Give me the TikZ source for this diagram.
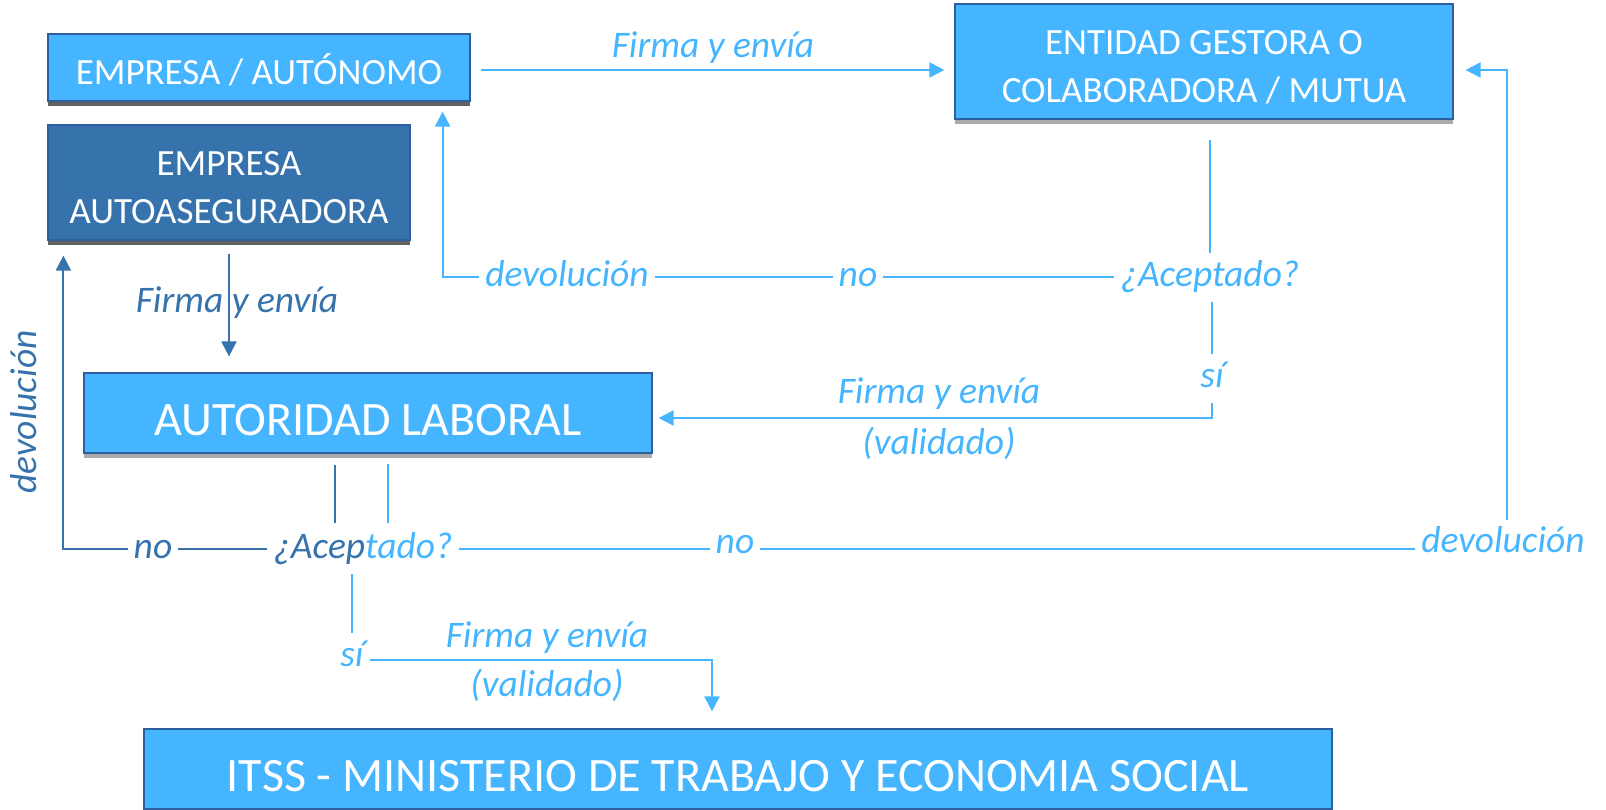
\documentclass[tikz,border=0pt]{standalone}
\usepackage{fontspec}
\setmainfont{Carlito}
\usepackage{tikz}
\usetikzlibrary{arrows.meta,shadows}
\definecolor{lightblue}{HTML}{45B5FF}
\definecolor{darkblue}{HTML}{3673AD}
\definecolor{borderblue}{HTML}{2E5E9E}
\newcommand{\topstrut}{\rule{0pt}{1em}}
\newcommand{\botstrut}{\rule[-0.08em]{0pt}{0.08em}}
\tikzstyle{bluebox} = [draw=borderblue, line width=1.2pt, fill=lightblue, text=white,
    rectangle, align=center, inner sep=0pt, font=\fontsize{37}{48}\selectfont]
\tikzstyle{darkbox} = [bluebox, fill=darkblue]
\tikzstyle{bigtext} = [font=\fontsize{48}{54}\selectfont]
\tikzstyle{darkshadow} = [drop shadow={shadow xshift=0pt, shadow yshift=-5pt, fill=black!62, opacity=1}]
\tikzstyle{greyshadow} = [drop shadow={shadow xshift=0pt, shadow yshift=-5pt, fill=black!33, opacity=1}]
\tikzstyle{lighttext} = [text=lightblue, inner sep=6pt, text height=27pt, text depth=9.4pt,
    font=\itshape\fontsize{37.5}{44}\selectfont]
\tikzstyle{darktext} = [lighttext, text=darkblue]
\tikzstyle{lightline} = [draw=lightblue, line width=2pt]
\tikzstyle{darkline} = [draw=darkblue, line width=2pt]

\begin{document}
\begin{tikzpicture}[x=1pt, y=-1pt, >={Triangle[length=15pt,width=15pt]}]
\useasboundingbox (0,0) rectangle (1606,810);

\node[bluebox, darkshadow, minimum width=422pt, minimum height=67pt] (emp) at (259,67.5) {\topstrut EMPRESA / AUTÓNOMO\botstrut};
\node[darkbox, darkshadow, minimum width=362pt, minimum height=115pt] (auto) at (229,182.5) {\topstrut EMPRESA\\AUTOASEGURADORA\botstrut};
\node[bluebox, greyshadow, minimum width=498pt, minimum height=115pt] (ent) at (1204,61.5) {\topstrut ENTIDAD GESTORA O\\COLABORADORA / MUTUA\botstrut};
\node[bluebox, greyshadow, bigtext, minimum width=568pt, minimum height=80pt] (lab) at (368,413) {\topstrut AUTORIDAD LABORAL\botstrut};
\node[bluebox, bigtext, minimum width=1188pt, minimum height=80pt] (itss) at (738,769) {\topstrut ITSS - MINISTERIO DE TRABAJO Y ECONOMIA SOCIAL\botstrut};

\node[lighttext] (firma1) at (713,49) {Firma y envía};
\node[lighttext] (acep1) at (1210,277.5) {¿Aceptado?};
\node[lighttext] (no1) at (858,277.5) {no};
\node[lighttext] (dev1) at (567,277.5) {devolución};
\node[lighttext] (si1) at (1212,378.5) {sí};
\node[lighttext] (firma2) at (939,395) {Firma y envía};
\node[lighttext] (valid1) at (939,445.5) {(validado)};
\node[darktext] (firma3) at (237,304) {Firma y envía};
\node[darktext, rotate=90] (dev2) at (28,412) {devolución};
\node[lighttext] (acep2) at (363,550) {\textcolor{darkblue}{¿Acep}tado?};
\node[darktext] (no2) at (153,550) {no};
\node[lighttext] (no3) at (735,545) {no};
\node[lighttext] (dev3) at (1503,544) {devolución};
\node[lighttext] (si2) at (352,657.5) {sí};
\node[lighttext] (firma4) at (547,638.5) {Firma y envía};
\node[lighttext] (valid2) at (547,688) {(validado)};

\coordinate (dk) at ([xshift=-28pt]acep2.north);
\coordinate (lt) at ([xshift=25pt]acep2.north);

\draw[lightline, ->, shorten <=10pt, shorten >=10pt] ([yshift=-2.5pt]emp.east) -- ([yshift=-2.5pt]emp.east -| ent.west);
\draw[lightline, shorten <=20pt] (acep1.north |- ent.south) -- (acep1.north);
\draw[lightline] (acep1.west) -- (no1.east);
\draw[lightline] (no1.west) -- (dev1.east);
\draw[lightline, ->] (dev1.west) -| ([shift={(-28pt,-10pt)}]emp.south east);
\draw[lightline] (si1.north |- acep1.south) -- (si1.north);
\draw[lightline, ->] (si1.south) |- ([shift={(6pt,-5pt)}]lab.east);

\draw[darkline, ->, shorten <=13pt, shorten >=16pt] (auto.south) -- (auto.south |- lab.north);
\draw[darkline, shorten <=11pt, shorten >=3pt] (dk |- lab.south) -- (dk);
\draw[lightline, shorten <=10pt, shorten >=3pt] (lt |- lab.south) -- (lt);
\draw[darkline] ([yshift=1pt]acep2.west) -- ([yshift=1pt]no2.east);
\draw[darkline, ->] ([yshift=1pt]no2.west) -| ([shift={(16pt,-15pt)}]auto.south west);

\draw[lightline] ([yshift=1pt]acep2.east) -- ([yshift=1pt]acep2.east -| no3.west);
\draw[lightline] ([yshift=1pt]acep2.east -| no3.east) -- ([yshift=1pt]acep2.east -| dev3.west);
\draw[lightline, ->] ([xshift=4pt]dev3.north) |- ([shift={(12pt,-8.5pt)}]ent.east);
\draw[lightline] (si2.north |- acep2.south) -- (si2.north);
\draw[lightline, ->] ([yshift=-2pt]si2.east) -| ([shift={(-26pt,17pt)}]itss.north);
\end{tikzpicture}
\end{document}
